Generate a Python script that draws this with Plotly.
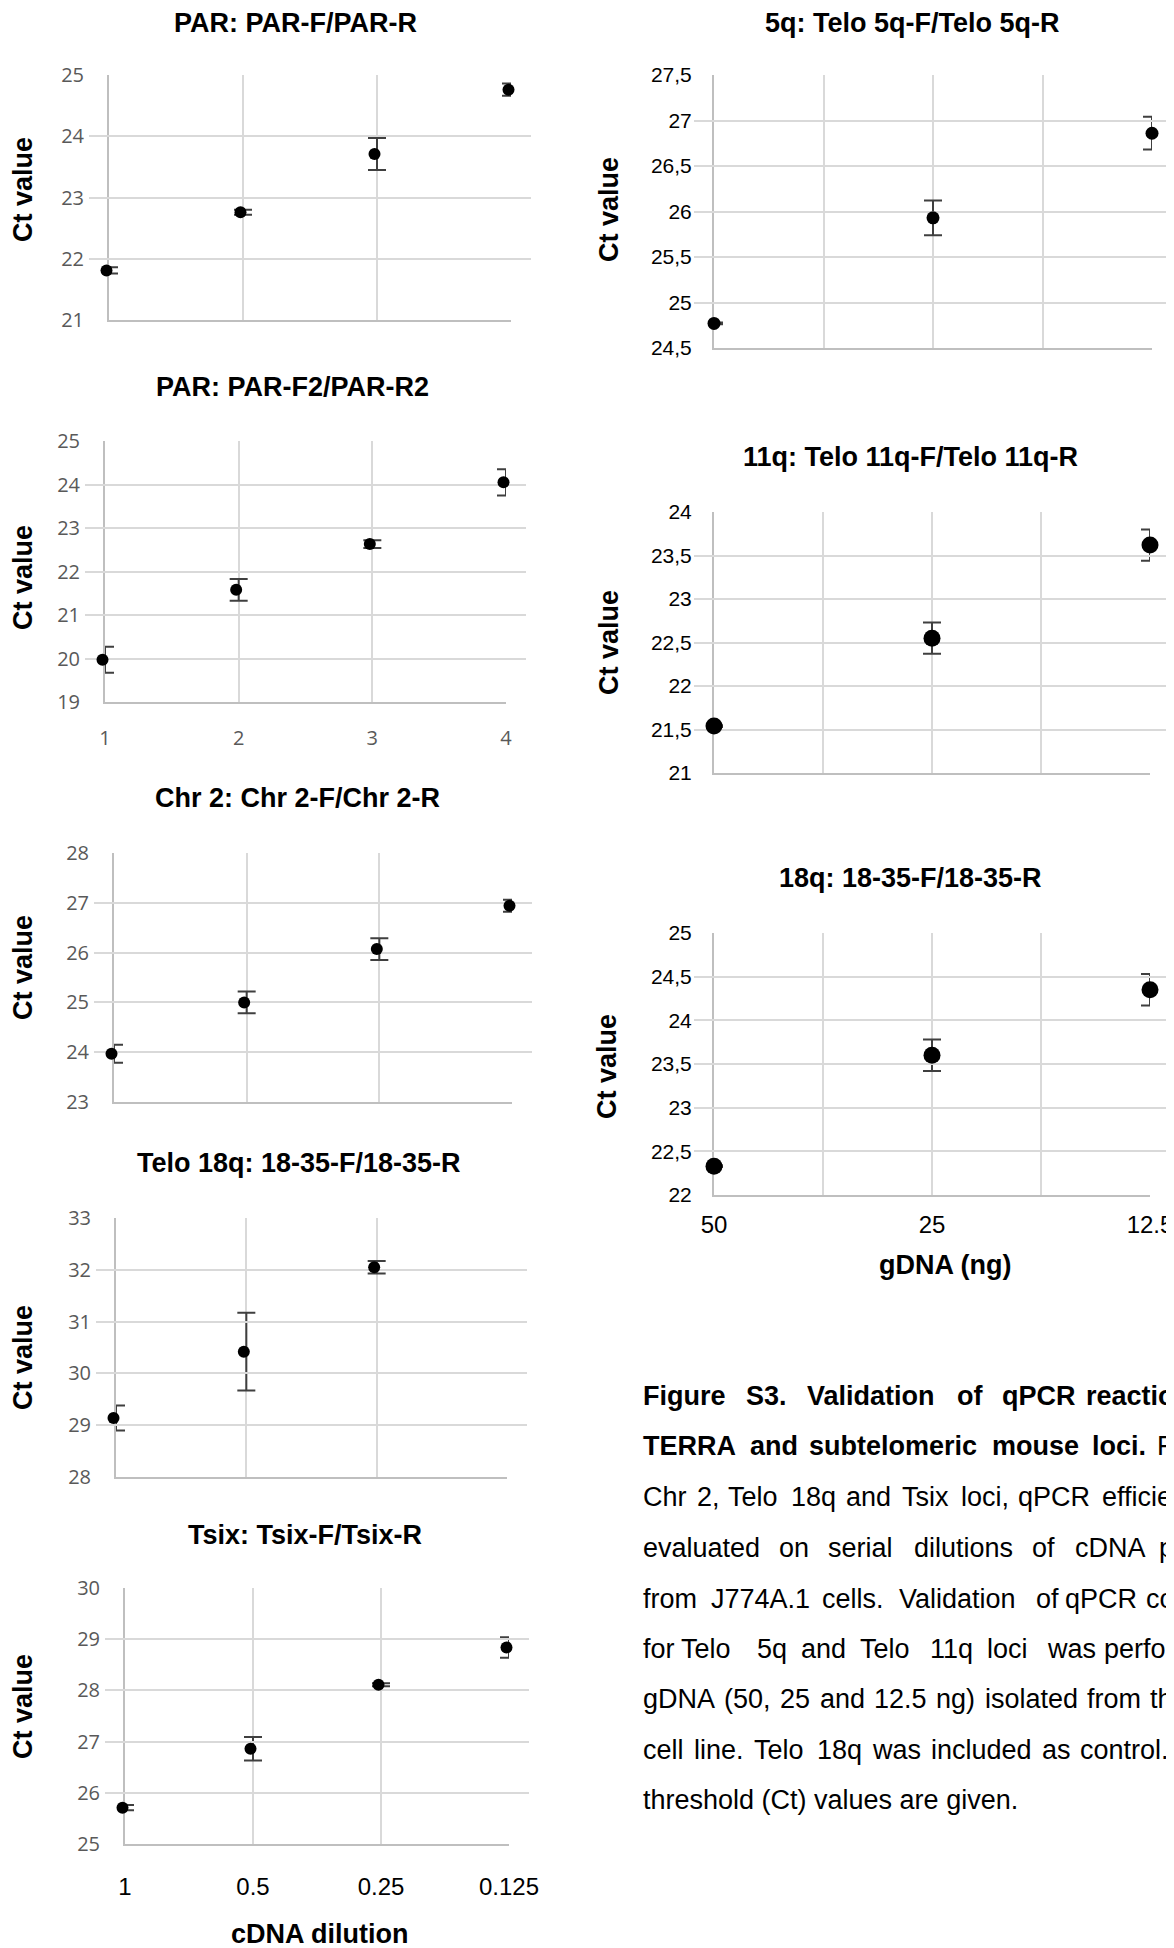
import plotly.graph_objects as go

W, H = 1174, 1948
OFF = 8  # the page body adds an 8px margin; positions below are page pixels

# ---------------- data ----------------
par2_tick_labels = ["1", "2", "3", "4"]
cdna_dilution_labels = ["1", "0.5", "0.25", "0.125"]
gdna_ng_labels = ["50", "", "25", "", "12.5"]

par_f_r_ct = [21.81, 22.76, 23.71, 24.76]
par_f_r_sd = [0.05, 0.04, 0.26, 0.10]

par_f2_r2_ct = [19.97, 21.58, 22.63, 24.05]
par_f2_r2_sd = [0.30, 0.25, 0.09, 0.30]

chr2_ct = [23.97, 25.00, 26.07, 26.94]
chr2_sd = [0.18, 0.22, 0.22, 0.12]

telo18q_ct = [29.14, 30.42, 32.05]
telo18q_sd = [0.24, 0.75, 0.12]

tsix_ct = [25.71, 26.86, 28.11, 28.84]
tsix_sd = [0.05, 0.23, 0.03, 0.20]

telo5q_ct = [24.77, 25.93, 26.86]
telo5q_sd = [0.01, 0.19, 0.18]

telo11q_ct = [21.54, 22.55, 23.62]
telo11q_sd = [0.01, 0.18, 0.18]

q18_ct = [22.33, 23.60, 24.35]
q18_sd = [0.01, 0.18, 0.18]

# ---------------- styles ----------------
ARIAL = "Liberation Sans, Arial, sans-serif"
LEFT_TICK = dict(family="Open Sans, sans-serif", size=20, color="#595959")
RIGHT_TICK = dict(family=ARIAL, size=21, color="#000000")
BOTTOM_TICK = dict(family=ARIAL, size=24, color="#000000")
GRID = "#d9d9d9"
AXLINE = "#bfbfbf"
CAP_SIZE = 27


def fx(px):
    return (px - OFF) / W


def fy(py):
    return 1 - (py - OFF) / H


panels = [
    dict(title="PAR: PAR-F/PAR-R", ct=par_f_r_ct, sd=par_f_r_sd, right=False,
         px=(109, 511), py=(75, 320), yr=(21, 25), dy=1, title_xy=(295, 23),
         ylab_xy=(23, 190), msize=12, shift=2.5, xlab=None),
    dict(title="PAR: PAR-F2/PAR-R2", ct=par_f2_r2_ct, sd=par_f2_r2_sd, right=False,
         px=(105, 506), py=(441, 702), yr=(19, 25), dy=1, title_xy=(292, 387),
         ylab_xy=(23, 578), msize=12, shift=2.5,
         xlab=dict(text=par2_tick_labels, font=LEFT_TICK, len=17)),
    dict(title="Chr 2: Chr 2-F/Chr 2-R", ct=chr2_ct, sd=chr2_sd, right=False,
         px=(114, 512), py=(853, 1102), yr=(23, 28), dy=1, title_xy=(297, 798),
         ylab_xy=(23, 968), msize=12, shift=2.5, xlab=None),
    dict(title="Telo 18q: 18-35-F/18-35-R", ct=telo18q_ct, sd=telo18q_sd, right=False,
         px=(116, 507), py=(1218, 1477), yr=(28, 33), dy=1, title_xy=(299, 1163),
         ylab_xy=(23, 1358), msize=12, shift=2.5, xlab=None),
    dict(title="Tsix: Tsix-F/Tsix-R", ct=tsix_ct, sd=tsix_sd, right=False,
         px=(125, 509), py=(1588, 1844), yr=(25, 30), dy=1, title_xy=(305, 1535),
         ylab_xy=(23, 1707), msize=12, shift=2.5,
         xlab=dict(text=cdna_dilution_labels, font=BOTTOM_TICK, len=20)),
    dict(title="5q: Telo 5q-F/Telo 5q-R", ct=telo5q_ct, sd=telo5q_sd, right=True,
         px=(714, 1152), py=(75, 348), yr=(24.5, 27.5), dy=0.5, title_xy=(912, 23),
         ylab_xy=(609, 210), msize=13, shift=0, xlab=None),
    dict(title="11q: Telo 11q-F/Telo 11q-R", ct=telo11q_ct, sd=telo11q_sd, right=True,
         px=(714, 1150), py=(512, 773), yr=(21, 24), dy=0.5, title_xy=(910, 457),
         ylab_xy=(609, 643), msize=17, shift=0, xlab=None),
    dict(title="18q: 18-35-F/18-35-R", ct=q18_ct, sd=q18_sd, right=True,
         px=(714, 1150), py=(933, 1195), yr=(22, 25), dy=0.5, title_xy=(910, 878),
         ylab_xy=(607, 1067), msize=17, shift=0,
         xlab=dict(text=gdna_ng_labels, font=BOTTOM_TICK, len=7)),
]

fig = go.Figure()
layout_axes = {}
annotations = []


def sid(k):
    return "" if k == 1 else str(k)


N = len(panels)
EXT = 20  # px the hidden marker axis extends beyond the plot on each side
for k, p in enumerate(panels, start=1):
    x0, x1 = p["px"]
    y0, y1 = p["py"]
    dom_x = [fx(x0), fx(x1)]
    dom_y = [fy(y1), fy(y0)]
    if p["right"]:
        xr = [1, 3]
        tv = [1, 1.5, 2, 2.5, 3]
        yfont = RIGHT_TICK
        ylen = 16
    else:
        xr = [1, 4]
        tv = [1, 2, 3, 4]
        yfont = LEFT_TICK
        ylen = 19
    xs = list(range(1, len(p["ct"]) + 1))

    xa = dict(domain=dom_x, range=xr, tickmode="array", tickvals=tv,
              showgrid=True, gridcolor=GRID, gridwidth=2, zeroline=False,
              showline=True, linecolor=AXLINE, linewidth=2, automargin=False,
              anchor="y" + sid(k), fixedrange=True)
    if p["xlab"] is not None:
        xa.update(ticktext=p["xlab"]["text"], showticklabels=True,
                  tickfont=p["xlab"]["font"], ticks="outside",
                  ticklen=p["xlab"]["len"], tickcolor="rgba(0,0,0,0)")
    else:
        xa.update(showticklabels=False, ticks="")
    ya = dict(domain=dom_y, range=list(p["yr"]), dtick=p["dy"], tick0=0,
              showgrid=True, gridcolor=GRID, gridwidth=2, zeroline=False,
              showline=True, linecolor=AXLINE, linewidth=2, automargin=False,
              ticks="outside", ticklen=ylen, tickcolor="rgba(0,0,0,0)",
              tickfont=yfont, anchor="x" + sid(k), fixedrange=True)
    layout_axes["xaxis" + sid(k)] = xa
    layout_axes["yaxis" + sid(k)] = ya

    # hidden axis with the same scale that places markers a hair left of the bars
    u = (xr[1] - xr[0]) / (x1 - x0)
    d = p["shift"] * u
    layout_axes["xaxis" + str(k + N)] = dict(
        domain=[fx(x0 - EXT), fx(x1 + EXT)],
        range=[xr[0] + d - EXT * u, xr[1] + d + EXT * u],
        anchor="y" + sid(k), visible=False, showgrid=False, zeroline=False,
        automargin=False, fixedrange=True)

    fig.add_trace(go.Scatter(
        x=xs, y=p["ct"], mode="markers",
        marker=dict(size=p["msize"], color="rgba(0,0,0,0)"),
        error_y=dict(type="data", array=p["sd"], color="#3f3f3f",
                     thickness=2, width=9),
        xaxis="x" + sid(k), yaxis="y" + sid(k), cliponaxis=True,
        showlegend=False, hoverinfo="skip"))
    fig.add_trace(go.Scatter(
        x=xs, y=p["ct"], mode="markers",
        marker=dict(size=p["msize"], color="#000000"),
        xaxis="x" + str(k + N), yaxis="y" + sid(k), cliponaxis=False,
        showlegend=False))

    tx, ty = p["title_xy"]
    annotations.append(dict(text="<b>" + p["title"] + "</b>", x=fx(tx), y=fy(ty),
                            xref="paper", yref="paper", xanchor="center",
                            yanchor="middle", showarrow=False,
                            font=dict(family=ARIAL, size=27, color="#000000")))
    lx, ly = p["ylab_xy"]
    annotations.append(dict(text="<b>Ct value</b>", x=fx(lx), y=fy(ly),
                            xref="paper", yref="paper", xanchor="center",
                            yanchor="middle", showarrow=False, textangle=-90,
                            font=dict(family=ARIAL, size=27, color="#000000")))

# x-axis titles
for txt, (ax_x, ax_y) in [("cDNA dilution", (319, 1934)), ("gDNA (ng)", (945, 1265))]:
    annotations.append(dict(text="<b>" + txt + "</b>", x=fx(ax_x), y=fy(ax_y),
                            xref="paper", yref="paper", xanchor="center",
                            yanchor="middle", showarrow=False,
                            font=dict(family=ARIAL, size=27, color="#000000")))

# ---------------- caption (justified text, cut at the right edge as shown) ----------------
# Arial/Liberation Sans advance widths (per 1000 em) used to justify whole lines
ARIAL_W = {" ": 278, "(": 333, ")": 333, ",": 278, ".": 278, "a": 556, "c": 500,
           "d": 556, "e": 556, "f": 278, "g": 556, "h": 556, "i": 222, "l": 222,
           "m": 833, "n": 556, "o": 556, "q": 556, "r": 333, "s": 500, "t": 278,
           "u": 556, "w": 722, "A": 667, "D": 722, "N": 722, "T": 611}


def text_w(s):
    return sum(ARIAL_W.get(ch, 556) for ch in s) * CAP_SIZE / 1000


def justify(line, x_start, x_end):
    words = line.split(" ")
    gap = (x_end - x_start - sum(text_w(w) for w in words)) / (len(words) - 1)
    out, x = [], x_start
    for w in words:
        out.append((w, x))
        x += text_w(w) + gap
    return out


caption_words = [
    (1396, [("<b>Figure</b>", 641), ("<b>S3.</b>", 744), ("<b>Validation</b>", 805),
            ("<b>of</b>", 955), ("<b>qPCR</b>", 1000), ("<b>reactio</b>", 1084)]),
    (1446, [("<b>TERRA</b>", 641), ("<b>and</b>", 748), ("<b>subtelomeric</b>", 807),
            ("<b>mouse</b>", 990), ("<b>loci.</b>", 1090), ("F", 1155)]),
    (1497, [("Chr", 641), ("2,", 695), ("Telo", 726), ("18q", 789), ("and", 844),
            ("Tsix", 900), ("loci,", 959), ("qPCR", 1016), ("efficie", 1100)]),
    (1548, [("evaluated", 641), ("on", 777), ("serial", 826), ("dilutions", 912),
            ("of", 1030), ("cDNA", 1073), ("p", 1157)]),
    (1599, [("from", 641), ("J774A.1", 709), ("cells.", 820), ("Validation", 897),
            ("of", 1034), ("qPCR", 1063), ("co", 1144)]),
    (1649, [("for", 641), ("Telo", 679), ("5q", 755), ("and", 799), ("Telo", 858),
            ("11q", 928), ("loci", 985), ("was", 1045), ("perfor", 1102)]),
    (1699, justify("gDNA (50, 25 and 12.5 ng) isolated from th", 641, 1171)),
    (1750, justify("cell line. Telo 18q was included as control.", 641, 1167)),
    (1800, [("threshold (Ct) values are given.", 641)]),
]
for ly, words in caption_words:
    for w, wx in words:
        annotations.append(dict(text=w, x=fx(wx), y=fy(ly), xref="paper",
                                yref="paper", xanchor="left", yanchor="middle",
                                showarrow=False,
                                font=dict(family=ARIAL, size=CAP_SIZE, color="#000000")))

fig.update_layout(
    template="none",
    width=W, height=H, margin=dict(l=0, r=0, t=0, b=0, pad=0),
    paper_bgcolor="white", plot_bgcolor="rgba(0,0,0,0)",
    separators=",.", showlegend=False,
    annotations=annotations, **layout_axes)

fig.write_html("out.html")
